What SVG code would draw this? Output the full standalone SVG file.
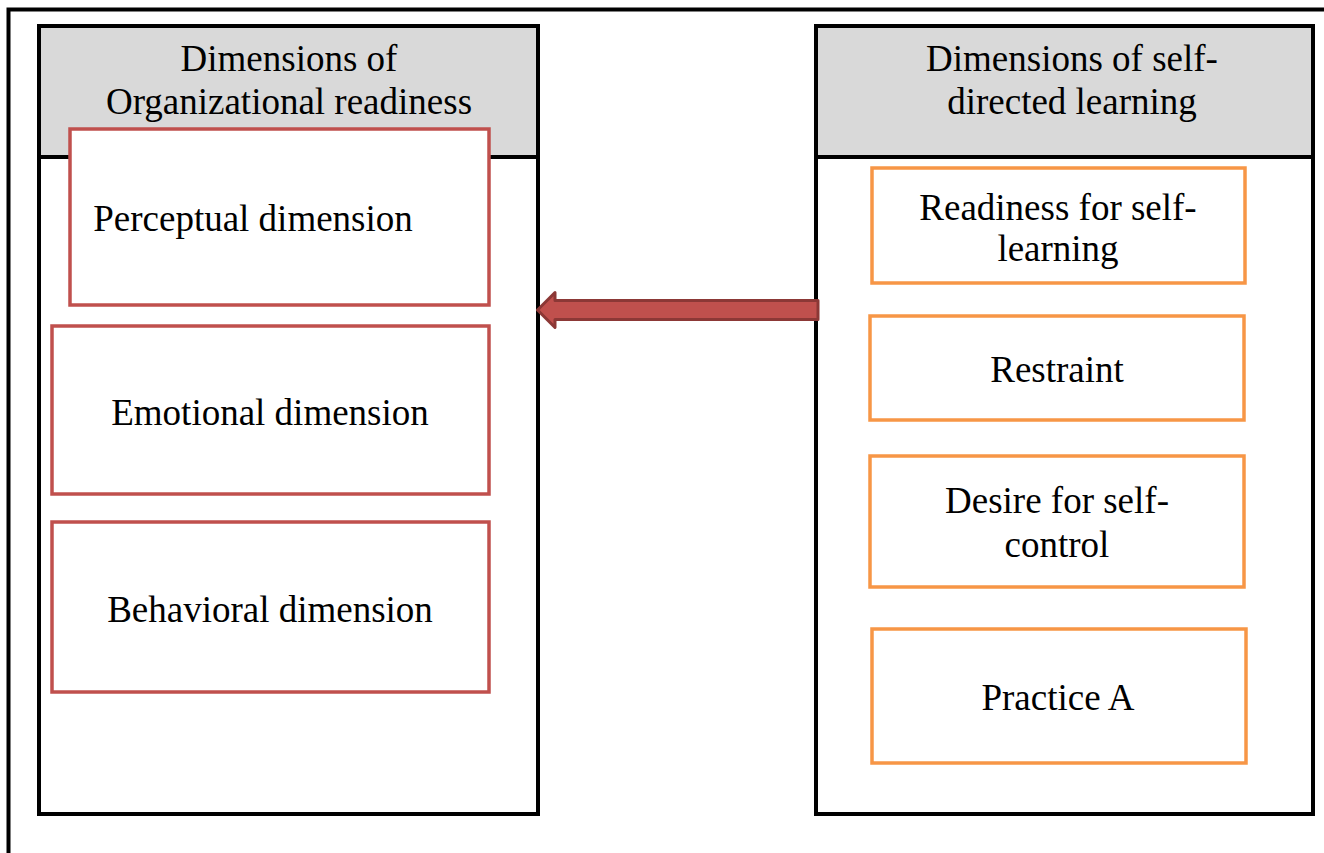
<svg xmlns="http://www.w3.org/2000/svg" width="1324" height="853" viewBox="0 0 1324 853">
<style>
.frame{fill:none;stroke:#000;stroke-width:4}
.panel{fill:#fff;stroke:#000;stroke-width:4}
.head{fill:#d9d9d9;stroke:#000;stroke-width:4}
.red{fill:#fff;stroke:#C0504D;stroke-width:3.5}
.org{fill:#fff;stroke:#F79646;stroke-width:3.5}
text{font-family:'Liberation Serif','Times New Roman',serif;font-size:37px;fill:#000;text-anchor:middle}
</style>
<rect width="1324" height="853" fill="#fff"/>
<path class="frame" d="M8.5,860 V9.5 H1330"/>
<g id="left-panel">
<rect class="panel" x="39" y="26" width="499" height="788"/>
<rect class="head" x="39" y="26" width="499" height="131"/>
<text x="289" y="71" font-family="Liberation Serif, serif">Dimensions of</text>
<text x="289" y="114" font-family="Liberation Serif, serif">Organizational readiness</text>
</g>
<g id="right-panel">
<rect class="panel" x="816" y="26" width="497" height="788"/>
<rect class="head" x="816" y="26" width="497" height="131"/>
<text x="1072" y="71" font-family="Liberation Serif, serif">Dimensions of self-</text>
<text x="1072" y="114" font-family="Liberation Serif, serif">directed learning</text>
</g>
<g id="perceptual">
<rect class="red" x="70" y="129" width="419" height="176"/>
<text x="253" y="231" font-family="Liberation Serif, serif">Perceptual dimension</text>
</g>
<g id="emotional">
<rect class="red" x="52" y="326" width="437" height="168"/>
<text x="270" y="425" font-family="Liberation Serif, serif">Emotional dimension</text>
</g>
<g id="behavioral">
<rect class="red" x="52" y="522" width="437" height="170"/>
<text x="270" y="622" font-family="Liberation Serif, serif">Behavioral dimension</text>
</g>
<g id="readiness">
<rect class="org" x="872" y="168" width="373" height="115"/>
<text x="1058" y="220" font-family="Liberation Serif, serif">Readiness for self-</text>
<text x="1058" y="261" font-family="Liberation Serif, serif">learning</text>
</g>
<g id="restraint">
<rect class="org" x="870" y="316" width="374" height="104"/>
<text x="1057" y="382" font-family="Liberation Serif, serif">Restraint</text>
</g>
<g id="desire">
<rect class="org" x="870" y="456" width="374" height="131"/>
<text x="1057" y="513" font-family="Liberation Serif, serif">Desire for self-</text>
<text x="1057" y="557" font-family="Liberation Serif, serif">control</text>
</g>
<g id="practice">
<rect class="org" x="872" y="629" width="374" height="134"/>
<text x="1058" y="710" font-family="Liberation Serif, serif">Practice A</text>
</g>
<g id="connectors">
<path d="M818,300.5 H555 V292.5 L537.5,310 L555,327.5 V319.5 H818 Z" fill="#C0504D" stroke="#8C3836" stroke-width="3" stroke-linejoin="round"/>
</g>
</svg>
